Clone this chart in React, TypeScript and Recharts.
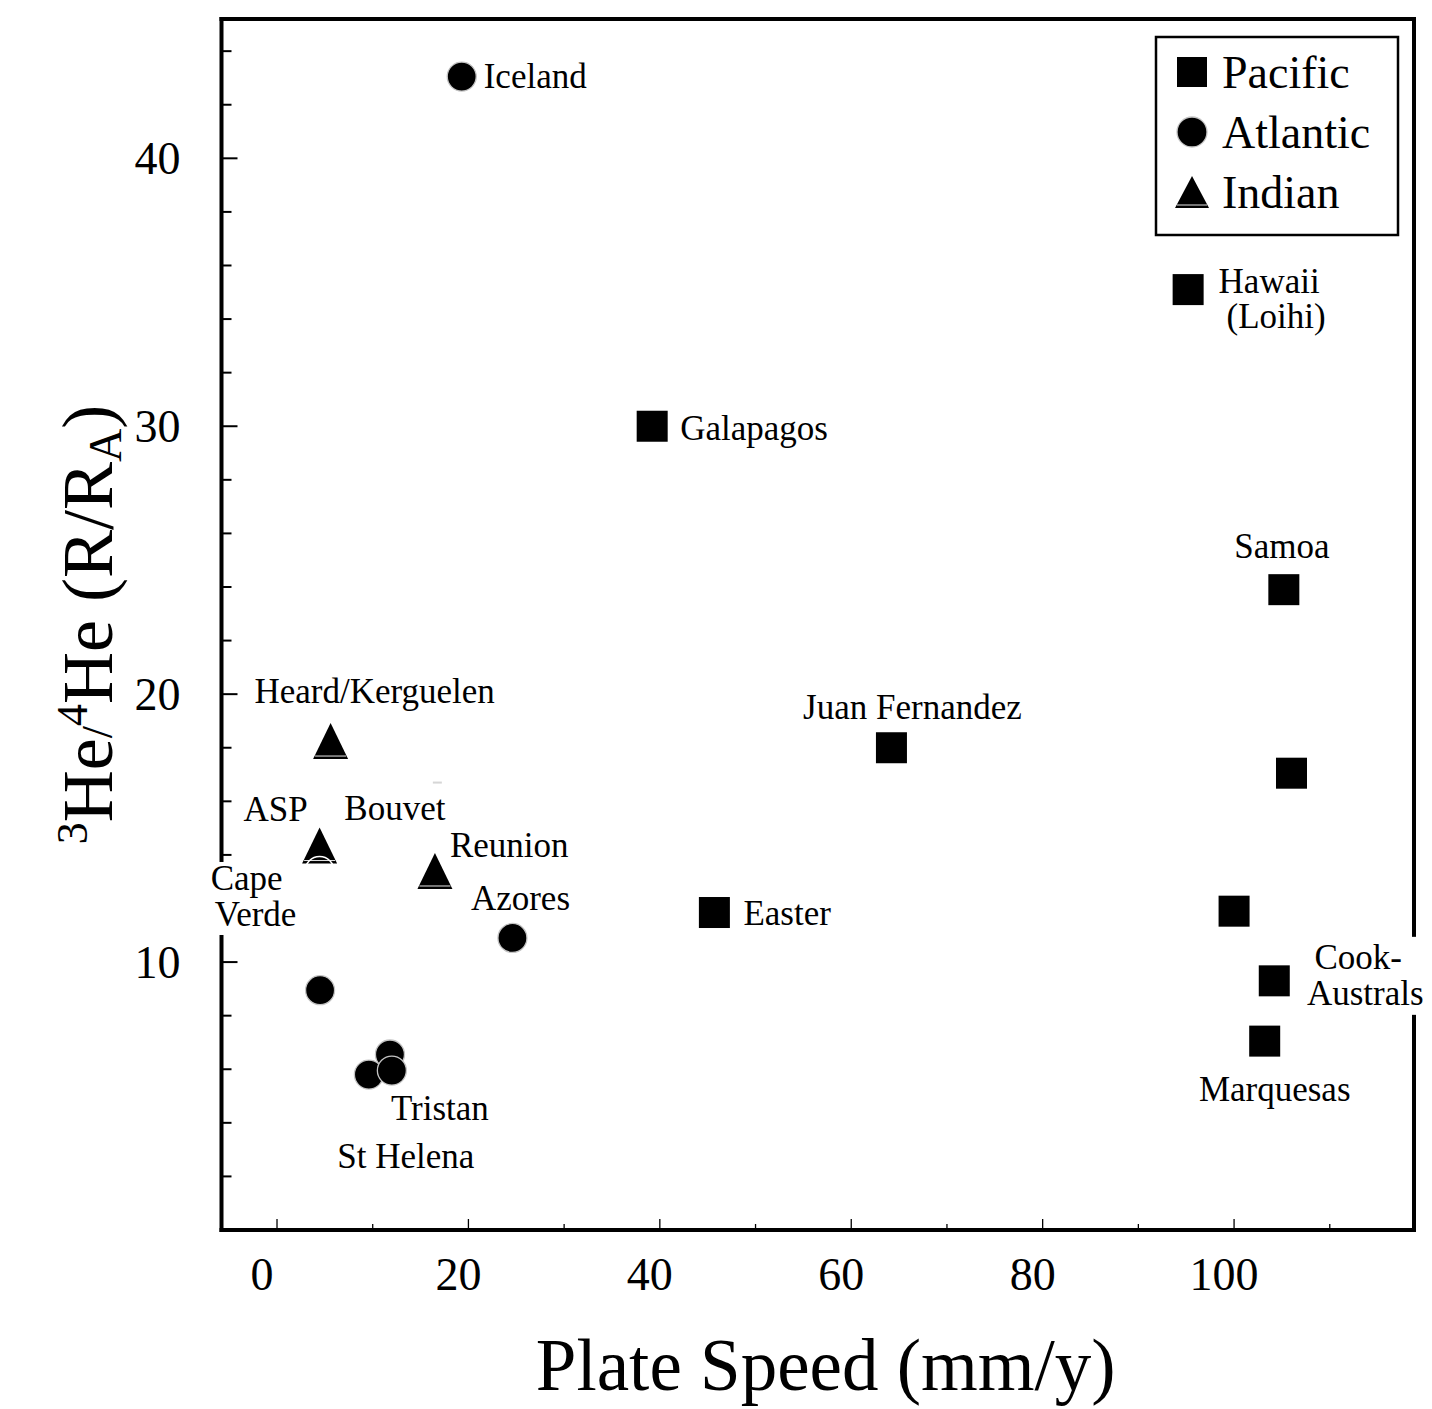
import React from 'react';
import { ScatterChart, Scatter, XAxis, YAxis, Legend, LabelList, ReferenceLine } from 'recharts';

const FONT = '"Liberation Serif", "Times New Roman", Times, serif';

// Plate speed (mm/y) and 3He/4He (R/RA) for each hotspot, grouped by ocean
const pacificNames = ['Hawaii (Loihi)', 'Galapagos', 'Samoa', 'Juan Fernandez', '', 'Easter', '', 'Cook-Australs', 'Marquesas'];
const pacificSpeed = [95.2, 39.2, 105.2, 64.2, 106.0, 45.7, 100.0, 104.2, 103.2];
const pacificRatio = [35.1, 30.0, 23.9, 18.0, 17.05, 11.85, 11.9, 9.3, 7.05];

const atlanticNames = ['Iceland', 'Azores', '', 'Cape Verde', '', 'St Helena', 'Tristan', 'Bouvet'];
const atlanticSpeed = [19.3, 24.6, 4.5, 4.45, 11.8, 9.6, 12.0, 16.7];
const atlanticRatio = [43.05, 10.9, 8.95, 13.4, 6.55, 5.8, 5.95, 16.7];

const indianNames = ['Heard/Kerguelen', 'ASP', 'Reunion'];
const indianSpeed = [5.6, 4.45, 16.5];
const indianRatio = [18.25, 14.35, 13.4];

const oceanOrder = ['Pacific', 'Atlantic', 'Indian'];

const xTicks = [0, 10, 20, 30, 40, 50, 60, 70, 80, 90, 100, 110];
const yTicks = [2, 4, 6, 8, 10, 12, 14, 16, 18, 20, 22, 24, 26, 28, 30, 32, 34, 36, 38, 40, 42, 44];
const xDomain: [number, number] = [-5.8, 118.8];
const yDomain: [number, number] = [0, 45.2];

const toRows = (names: string[], xs: number[], ys: number[]) =>
  names.map((name, i) => ({ name, speed: xs[i], ratio: ys[i] }));

const pacificRows = toRows(pacificNames, pacificSpeed, pacificRatio);
const atlanticRows = toRows(atlanticNames, atlanticSpeed, atlanticRatio);
const indianRows = toRows(indianNames, indianSpeed, indianRatio);

// Where each site name sits relative to its marker (pixels)
type Line = { text: string; dx: number; dy: number; anchor: 'start' | 'middle' | 'end' };
type Placement = { lines: Line[]; bg?: { x: number; y: number; w: number; h: number } };
const labelPlacement: Record<string, Placement> = {
  Iceland: { lines: [{ text: 'Iceland', dx: 22, dy: 11, anchor: 'start' }] },
  'Hawaii (Loihi)': {
    lines: [
      { text: 'Hawaii', dx: 81, dy: 3, anchor: 'middle' },
      { text: '(Loihi)', dx: 88, dy: 38, anchor: 'middle' },
    ],
  },
  Galapagos: { lines: [{ text: 'Galapagos', dx: 28, dy: 14, anchor: 'start' }] },
  Samoa: { lines: [{ text: 'Samoa', dx: -2, dy: -32, anchor: 'middle' }] },
  'Juan Fernandez': { lines: [{ text: 'Juan Fernandez', dx: 21, dy: -29, anchor: 'middle' }] },
  Easter: { lines: [{ text: 'Easter', dx: 29, dy: 12, anchor: 'start' }] },
  'Cook-Australs': {
    lines: [
      { text: 'Cook-', dx: 84, dy: -12, anchor: 'middle' },
      { text: 'Australs', dx: 91, dy: 24, anchor: 'middle' },
    ],
    bg: { x: 28, y: -44, w: 128, h: 78 },
  },
  Marquesas: { lines: [{ text: 'Marquesas', dx: 10, dy: 60, anchor: 'middle' }] },
  'Heard/Kerguelen': { lines: [{ text: 'Heard/Kerguelen', dx: 44, dy: -38, anchor: 'middle' }] },
  ASP: { lines: [{ text: 'ASP', dx: -44, dy: -25, anchor: 'middle' }] },
  Bouvet: { lines: [{ text: 'Bouvet', dx: -42, dy: 37, anchor: 'middle' }] },
  Reunion: { lines: [{ text: 'Reunion', dx: 15, dy: -14, anchor: 'start' }] },
  'Cape Verde': {
    lines: [
      { text: 'Cape', dx: -73, dy: 19, anchor: 'middle' },
      { text: 'Verde', dx: -64, dy: 55, anchor: 'middle' },
    ],
    bg: { x: -113, y: -9, w: 92, h: 73 },
  },
  Azores: { lines: [{ text: 'Azores', dx: 8, dy: -28, anchor: 'middle' }] },
  Tristan: { lines: [{ text: 'Tristan', dx: 48, dy: 49, anchor: 'middle' }] },
  'St Helena': { lines: [{ text: 'St Helena', dx: 37, dy: 93, anchor: 'middle' }] },
};

// Sites whose marker is almost lost on the plot: Bouvet is a faint speck,
// Cape Verde only shows as a pale outline over the ASP triangle
const speckSites = new Set(['Bouvet']);
const outlineSites = new Set(['Cape Verde']);

const SquareMark = ({ cx, cy, size = 31 }: any) => (
  <rect x={cx - size / 2} y={cy - size / 2} width={size} height={size} fill="#000" />
);

const CircleMark = ({ cx, cy, r = 14.5 }: any) => (
  <circle cx={cx} cy={cy} r={r} fill="#000" stroke="#c4c4c4" strokeWidth={1.3} />
);

const TriangleMark = ({ cx, cy, w = 35, h = 36 }: any) => (
  <g>
    <path d={`M${cx},${cy - h / 2}L${cx + w / 2},${cy + h / 2}L${cx - w / 2},${cy + h / 2}Z`} fill="#000" />
    <line x1={cx - w / 2 + 2} x2={cx + w / 2 - 2} y1={cy + h / 2 - 3} y2={cy + h / 2 - 3} stroke="#e6e6e6" strokeWidth={1} />
  </g>
);

const atlanticShape = (p: any) => {
  const name = p?.payload?.name;
  if (speckSites.has(name)) return <rect x={p.cx - 4} y={p.cy - 1} width={9} height={2} fill="#d6d6d6" />;
  if (outlineSites.has(name)) return <circle cx={p.cx} cy={p.cy} r={14.5} fill="none" stroke="#fff" strokeWidth={1.5} />;
  return <CircleMark cx={p.cx} cy={p.cy} />;
};

const renderSiteLabel = (props: any) => {
  const place = labelPlacement[props.value];
  if (!place) return null;
  const vb = props.viewBox ?? props;
  const cx = vb.x + (vb.width ?? 0) / 2;
  const cy = vb.y + (vb.height ?? 0) / 2;
  return (
    <g>
      {place.bg && <rect x={cx + place.bg.x} y={cy + place.bg.y} width={place.bg.w} height={place.bg.h} fill="#fff" />}
      {place.lines.map((l, i) => (
        <text key={i} x={cx + l.dx} y={cy + l.dy} textAnchor={l.anchor} fontFamily={FONT} fontSize={35} fill="#000">
          {l.text}
        </text>
      ))}
    </g>
  );
};

const XTick = ({ x, y, payload }: any) => {
  const v = payload.value;
  const major = v % 20 === 0;
  return (
    <g>
      <line x1={x} x2={x} y1={y} y2={y - (major ? 11 : 6)} stroke="#000" strokeWidth={1.3} />
      {major && (
        <text x={x + (v === 0 ? -15 : -10)} y={y + 60} textAnchor="middle" fontFamily={FONT} fontSize={46} fill="#000">
          {v}
        </text>
      )}
    </g>
  );
};

const YTick = ({ x, y, payload }: any) => {
  const v = payload.value;
  const major = v % 10 === 0;
  return (
    <g>
      <line x1={x} x2={x + (major ? 16 : 10)} y1={y} y2={y} stroke="#000" strokeWidth={2} />
      {major && (
        <text x={x - 41} y={y + 16} textAnchor="end" fontFamily={FONT} fontSize={46} fill="#000">
          {v}
        </text>
      )}
    </g>
  );
};

const XTitle = ({ viewBox }: any) => (
  <text x={viewBox.x + viewBox.width / 2 + 8} y={viewBox.y + 160} textAnchor="middle" fontFamily={FONT} fontSize={73} fill="#000">
    Plate Speed (mm/y)
  </text>
);

const YTitle = ({ viewBox }: any) => {
  const cx = viewBox.x + 104;
  const cy = viewBox.y + viewBox.height / 2;
  return (
    <text x={cx} y={cy} transform={`rotate(-90 ${cx} ${cy})`} textAnchor="middle" fontFamily={FONT} fontSize={72} fill="#000">
      <tspan fontSize={44} dy={-25}>3</tspan>
      <tspan dy={25}>He</tspan>
      <tspan fontSize={44}>/</tspan>
      <tspan fontSize={44} dy={-25}>4</tspan>
      <tspan dy={25}>He (R/R</tspan>
      <tspan fontSize={46} dy={9}>A</tspan>
      <tspan dy={-9}>)</tspan>
    </text>
  );
};

const LegendBox = ({ payload }: any) => {
  const present = new Set((payload ?? []).map((p: any) => p.value));
  const items = oceanOrder.filter((n) => present.has(n));
  return (
    <svg width={246} height={202} style={{ display: 'block' }}>
      <rect x={2} y={2} width={242} height={198} fill="#fff" stroke="#000" strokeWidth={2.5} />
      {items.map((name: string, i: number) => {
        const cy = 37 + i * 60;
        return (
          <g key={name}>
            {name === 'Pacific' && <SquareMark cx={38} cy={cy} size={30} />}
            {name === 'Atlantic' && <CircleMark cx={38} cy={cy} r={15} />}
            {name === 'Indian' && <TriangleMark cx={38} cy={cy} w={34} h={32} />}
            <text x={68} y={cy + 16} fontFamily={FONT} fontSize={46} fill="#000">
              {name}
            </text>
          </g>
        );
      })}
    </svg>
  );
};

const frameLine = { stroke: '#000', strokeWidth: 4, strokeLinecap: 'square' as const };

export default function App() {
  return (
    <div style={{ width: 1416, height: 1401 }}>
      <ScatterChart width={1416} height={1401} margin={{ top: 11, right: 10, bottom: 8, left: 0 }}>
        <XAxis
          type="number"
          dataKey="speed"
          domain={xDomain}
          ticks={xTicks}
          interval={0}
          tickSize={0}
          tickMargin={0}
          tick={<XTick />}
          axisLine={frameLine}
          height={171}
          label={{ content: XTitle }}
        />
        <YAxis
          type="number"
          dataKey="ratio"
          domain={yDomain}
          ticks={yTicks}
          interval={0}
          tickSize={0}
          tickMargin={0}
          tick={<YTick />}
          axisLine={frameLine}
          width={213.5}
          label={{ content: YTitle }}
        />
        {/* top and right edges of the plot frame */}
        <ReferenceLine y={yDomain[1]} stroke="#000" strokeWidth={4} strokeLinecap="square" />
        <ReferenceLine x={xDomain[1]} stroke="#000" strokeWidth={4} strokeLinecap="square" />
        <Legend
          layout="horizontal"
          verticalAlign="middle"
          align="center"
          wrapperStyle={{ position: 'absolute', left: 1146, top: 27, width: 246, height: 202 }}
          content={(p: any) => <LegendBox payload={p.payload} />}
        />
        <Scatter name="Pacific" data={pacificRows} shape={(p: any) => <SquareMark cx={p.cx} cy={p.cy} />} isAnimationActive={false}>
          <LabelList dataKey="name" content={renderSiteLabel} />
        </Scatter>
        <Scatter name="Indian" data={indianRows} shape={(p: any) => <TriangleMark cx={p.cx} cy={p.cy} />} isAnimationActive={false}>
          <LabelList dataKey="name" content={renderSiteLabel} />
        </Scatter>
        <Scatter name="Atlantic" data={atlanticRows} shape={atlanticShape} isAnimationActive={false}>
          <LabelList dataKey="name" content={renderSiteLabel} />
        </Scatter>
      </ScatterChart>
    </div>
  );
}
